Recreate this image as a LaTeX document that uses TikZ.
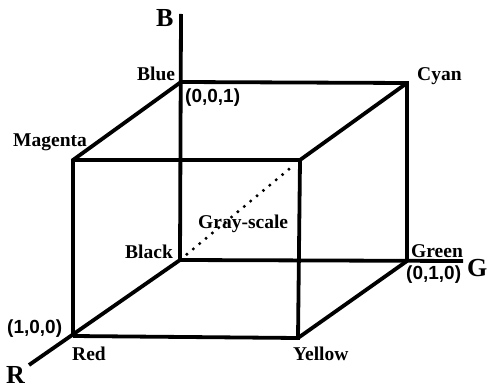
\documentclass[tikz,border=0pt]{standalone}
\usepackage{fontspec}
\setmainfont{Liberation Serif}
\setsansfont{Liberation Sans}
\begin{document}
\begin{tikzpicture}[
  x=1pt,y=-1pt,
  edge/.style={draw=black,line width=3.8pt},
  vname/.style={font=\bfseries\fontsize{19.5}{20}\selectfont,inner sep=0pt,anchor=base west},
  triple/.style={font=\sffamily\bfseries\fontsize{19}{20}\selectfont,inner sep=0pt,anchor=base west},
  axisname/.style={font=\bfseries\fontsize{26}{27}\selectfont,inner sep=0pt,anchor=base west}
]
\useasboundingbox (0,0) rectangle (492,390);

% Corners of the colour cube.
\coordinate (black) at (180,260);
\coordinate (blue) at (181,82);
\coordinate (cyan) at (407,83);
\coordinate (green) at (407,261);
\coordinate (red) at (73,336);
\coordinate (magenta) at (73,160);
\coordinate (white) at (300,160);
\coordinate (yellow) at (298,338);

% Axis ends.
\coordinate (btip) at (181,14);
\coordinate (gtip) at (463,261);
\coordinate (rtip) at (29,365);

% Axes from the black corner.
\draw[edge] (black) -- (btip);
\draw[edge] (black) -- (gtip);
\draw[edge] (black) -- (rtip);

% Remaining cube edges.
\draw[edge] (blue) -- (cyan) -- (green);
\draw[edge] (blue) -- (magenta) -- (red);
\draw[edge] (magenta) -- (white) -- (yellow) -- (red);
\draw[edge] (cyan) -- (white);
\draw[edge] (green) -- (yellow);

% Gray-scale diagonal.
\draw[line width=3.4pt,line cap=round,dash pattern=on 0pt off 8.3pt,
  shorten <=9pt,shorten >=9pt] (black) -- (white);

% Corner names.
\node[vname] (lblue) at (137,81) {Blue};
\node[vname] (lmagenta) at (13,147) {Magenta};
\node[vname] (lcyan) at (417,81) {Cyan};
\node[vname] (lblack) at (125,258) {Black};
\node[vname] (lgray) at (198,228) {Gray-scale};
\node[vname] (lred) at (72,360) {Red};
\node[vname] (lyellow) at (293,360) {Yellow};
\node[vname] (lgreen) at (411,257) {Green};

% Coordinates of the primaries.
\node[triple] (tblue) at (185,103) {(0,0,1)};
\node[triple] (tred) at (7,333) {(1,0,0)};
\node[triple] (tgreen) at (406,279) {(0,1,0)};

% Axis letters.
\node[axisname] (ab) at (156,27) {B};
\node[axisname] (ag) at (467,276) {G};
\node[axisname] (ar) at (6,383) {R};
\end{tikzpicture}
\end{document}
